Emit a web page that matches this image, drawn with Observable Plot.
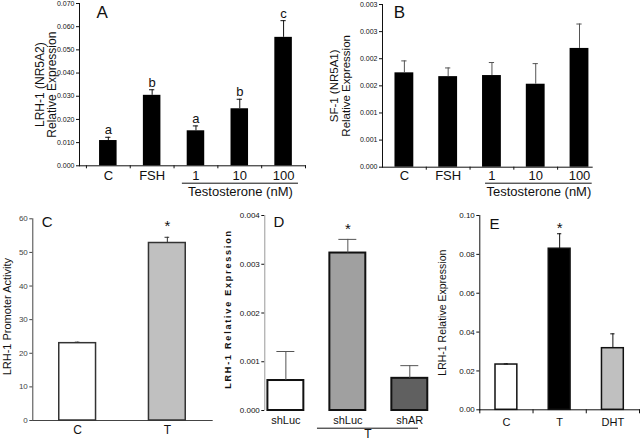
<!DOCTYPE html>
<html>
<head>
<meta charset="utf-8">
<script src="https://cdn.jsdelivr.net/npm/d3@7"></script>
<script src="https://cdn.jsdelivr.net/npm/@observablehq/plot@0.6"></script>
<style>
  body { margin: 0; background: #fff; }
  #fig { position: relative; width: 640px; height: 440px; overflow: hidden; background: #fff; }
  #fig svg { position: absolute; }
</style>
</head>
<body>
<div id="fig"></div>
<script>
// ---------- Panel A: LRH-1 (NR5A2) ----------
const aCats = ["C", "FSH", "1", "10", "100"];
const aMeans = [0.0109, 0.0304, 0.0151, 0.0246, 0.0554];
const aErrs = [0.0014, 0.0024, 0.0021, 0.0041, 0.0072];
const aNotes = ["a", "b", "a", "b", "c"];
const aTicks = [0, 0.01, 0.02, 0.03, 0.04, 0.05, 0.06, 0.07];
const aTickLabels = ["0.000", "0.010", "0.020", "0.030", "0.040", "0.050", "0.060", "0.070"];
const aYLabel = ["LRH-1 (NR5A2)", "Relative Expression"];
const aGroup = {label: "Testosterone (nM)", from: 2, to: 4};

// ---------- Panel B: SF-1 (NR5A1) ----------
const bCats = ["C", "FSH", "1", "10", "100"];
const bMeans = [0.00174, 0.00167, 0.00169, 0.00153, 0.00219];
const bErrs = [0.00022, 0.00016, 0.00024, 0.00038, 0.00045];
const bTicks = [0, 0.0005, 0.001, 0.0015, 0.002, 0.0025, 0.003];
const bTickLabels = ["0.000", "0.001", "0.001", "0.002", "0.002", "0.003", "0.003"];
const bYLabel = ["SF-1 (NR5A1)", "Relative Expression"];
const bGroup = {label: "Testosterone (nM)", from: 2, to: 4};

// ---------- Panel C: promoter activity ----------
const cCats = ["C", "T"];
const cMeans = [23.0, 52.8];
const cErrs = [0.3, 1.7];
const cNotes = ["", "*"];
const cTicks = [0, 10, 20, 30, 40, 50, 60];
const cTickLabels = ["0", "10", "20", "30", "40", "50", "60"];
const cYLabel = ["LRH-1 Promoter Activity"];

// ---------- Panel D: shRNA ----------
const dCats = ["shLuc", "shLuc", "shAR"];
const dMeans = [0.000615, 0.00323, 0.00066];
const dErrs = [0.000595, 0.00028, 0.00026];
const dNotes = ["", "*", ""];
const dTicks = [0, 0.001, 0.002, 0.003, 0.004];
const dTickLabels = ["0.000", "0.001", "0.002", "0.003", "0.004"];
const dYLabel = ["LRH-1 Relative Expression"];
const dGroup = {label: "T", from: 1, to: 2};

// ---------- Panel E: DHT ----------
const eCats = ["C", "T", "DHT"];
const eMeans = [0.0233, 0.0829, 0.0317];
const eErrs = [0.0003, 0.0077, 0.0074];
const eNotes = ["", "*", ""];
const eTicks = [0, 0.02, 0.04, 0.06, 0.08, 0.10];
const eTickLabels = ["0.00", "0.02", "0.04", "0.06", "0.08", "0.10"];
const eYLabel = ["LRH-1 Relative Expression"];

const FONT = "'Liberation Sans', Arial, Helvetica, sans-serif";

function panel(o) {
  const data = o.cats.map((c, i) => ({
    i, c, v: o.means[i], e: o.means[i] + o.errs[i],
    f: o.fills[i], note: o.notes ? o.notes[i] : ""
  }));
  const marks = [];
  if (o.yRuleColor) marks.push(Plot.ruleX([o.xDomain[0]], {stroke: o.yRuleColor, strokeWidth: 1}));
  marks.push(
    Plot.rectY(data, {
      x1: d => d.i - o.bw / 2, x2: d => d.i + o.bw / 2, y: "v",
      fill: "f", stroke: o.stroke || "none", strokeWidth: o.sw || 0
    }),
    Plot.ruleX(data, {x: "i", y1: "v", y2: "e", stroke: o.errColor, strokeWidth: 1}),
    Plot.ruleY(data, {y: "e", x1: d => d.i - o.cap, x2: d => d.i + o.cap, stroke: o.errColor, strokeWidth: 1}),
    Plot.text(data, {x: "i", y: d => 0, text: "c", dy: o.catDy, dx: o.catDx || 0, fontSize: o.catSize, lineAnchor: "middle", fill: "#111"}),
    Plot.text(data.filter(d => d.note), {x: "i", y: "e", text: "note", dy: o.noteDy, fontSize: o.noteSize, lineAnchor: "middle", fill: "#111"}),
    Plot.text([o.letter], {text: d => d, frameAnchor: "top-left", dx: o.letterDx, dy: o.letterDy, fontSize: o.letterSize, lineAnchor: "middle", textAnchor: "middle", fill: "#111"}),
    Plot.text([o.yLabel.join("\n")], {text: d => d, frameAnchor: "left", rotate: -90, dx: o.yLabelDx, dy: o.yLabelDy || 0, fontSize: o.yLabelSize, fontWeight: o.yLabelWeight || "normal", lineAnchor: "middle", textAnchor: "middle", lineHeight: o.yLabelLH || 1.05, fill: "#111"})
  );
  if (o.group) {
    const x1 = o.group.from + o.group.off[0];
    const x2 = o.group.to + o.group.off[1];
    marks.push(
      Plot.ruleY([0], {x1: () => x1, x2: () => x2, dy: o.group.lineDy, stroke: "#111", strokeWidth: 1}),
      Plot.text([{x: (x1 + x2) / 2, t: o.group.label}], {x: "x", y: d => 0, text: "t", dy: o.group.textDy, fontSize: o.group.size, lineAnchor: "middle", fill: "#111"})
    );
  }
  const svg = Plot.plot({
    width: o.width, height: o.height,
    marginLeft: o.ml, marginRight: o.mr, marginTop: o.mt, marginBottom: o.mb,
    style: {fontFamily: FONT, fontSize: o.tickSize + "px", background: "transparent", color: o.axisColor || "#111", overflow: "visible"},
    x: o.xAxis
      ? {domain: o.xDomain, ticks: o.xTicks, tickSize: o.xTickLen, tickFormat: () => "", line: true, label: null}
      : {domain: o.xDomain, axis: null},
    y: {domain: o.yDomain, ticks: o.yTicks, tickFormat: d => o.yTickLabels[o.yTicks.indexOf(d)], tickSize: 3, tickPadding: 2, line: !o.yRuleColor, label: null},
    color: {type: "identity"},
    marks
  });
  svg.style.left = o.left + "px";
  svg.style.top = o.top + "px";
  if (o.yLabelSpacing) {
    d3.select(svg).selectAll("text").filter(function () { return this.textContent === o.yLabel[0]; })
      .attr("letter-spacing", o.yLabelSpacing);
  }
  document.getElementById("fig").appendChild(svg);
}

panel({
  left: 0, top: 0, width: 320, height: 200, ml: 79, mr: 15, mt: 3, mb: 34.7,
  cats: aCats, means: aMeans, errs: aErrs, notes: aNotes, fills: aCats.map(() => "#000"),
  xDomain: [-0.658, 4.5], xAxis: true, xTicks: [-0.5, 0.5, 1.5, 2.5, 3.5, 4.5], xTickLen: 3,
  yDomain: [0, 0.07], yTicks: aTicks, yTickLabels: aTickLabels, tickSize: 7,
  bw: 0.40, cap: 0.06, errColor: "#111",
  catDy: 10, catSize: 13, noteDy: -7, noteSize: 13,
  letter: "A", letterDx: 22.7, letterDy: 8.7, letterSize: 17,
  yLabel: aYLabel, yLabelDx: -33.5, yLabelSize: 12,
  group: {label: aGroup.label, from: aGroup.from, to: aGroup.to, off: [-0.31, 0.34], lineDy: 17.4, textDy: 26.5, size: 13}
});

panel({
  left: 320, top: 0, width: 320, height: 200, ml: 62, mr: 48.3, mt: 4, mb: 33.3,
  cats: bCats, means: bMeans, errs: bErrs, fills: bCats.map(() => "#000"),
  xDomain: [-0.5, 4.29], xAxis: true, xTicks: [0.5, 1.5, 2.5, 3.5], xTickLen: 3,
  yDomain: [0, 0.003], yTicks: bTicks, yTickLabels: bTickLabels, tickSize: 7,
  bw: 0.43, cap: 0.06, errColor: "#555",
  catDy: 8.5, catSize: 13,
  letter: "B", letterDx: 17, letterDy: 7.7, letterSize: 17,
  yLabel: bYLabel, yLabelDx: -42.5, yLabelSize: 11.5,
  group: {label: bGroup.label, from: bGroup.from, to: bGroup.to, off: [-0.146, 0.29], lineDy: 16, textDy: 25, size: 13}
});

panel({
  left: 0, top: 200, width: 215, height: 240, ml: 32.3, mr: 3.3, mt: 18.3, mb: 20,
  cats: cCats, means: cMeans, errs: cErrs, notes: cNotes, fills: ["#ffffff", "#c0c0c0"],
  stroke: "#333", sw: 1.5, axisColor: "#444",
  xDomain: [-0.5, 1.5], xAxis: true, xTicks: [], xTickLen: 0,
  yDomain: [0, 60], yTicks: cTicks, yTickLabels: cTickLabels, tickSize: 8,
  bw: 0.41, cap: 0.026, errColor: "#333",
  catDy: 10, catSize: 12, noteDy: -11, noteSize: 15,
  letter: "C", letterDx: 14.4, letterDy: 3.4, letterSize: 15,
  yLabel: cYLabel, yLabelDx: -26, yLabelDy: -3, yLabelSize: 11
});

panel({
  left: 215, top: 200, width: 217, height: 240, ml: 49.3, mr: 1, mt: 15, mb: 30,
  cats: dCats, means: dMeans, errs: dErrs, notes: dNotes, fills: ["#ffffff", "#a0a0a0", "#606060"],
  stroke: "#111", sw: 2, yRuleColor: "#999",
  xDomain: [-0.34, 2.35], xAxis: false,
  yDomain: [0, 0.004], yTicks: dTicks, yTickLabels: dTickLabels, tickSize: 8,
  bw: 0.58, cap: 0.145, errColor: "#555",
  catDy: 10, catSize: 11, noteDy: -10, noteSize: 15,
  letter: "D", letterDx: 14, letterDy: 6.7, letterSize: 15,
  yLabel: dYLabel, yLabelDx: -36.6, yLabelDy: -4, yLabelSize: 9, yLabelWeight: "bold", yLabelSpacing: 1.8,
  group: {label: dGroup.label, from: dGroup.from, to: dGroup.to, off: [-0.49, 0.14], lineDy: 17.7, textDy: 23.5, size: 12}
});

panel({
  left: 425, top: 200, width: 215, height: 240, ml: 54.3, mr: 1, mt: 15, mb: 30.7,
  cats: eCats, means: eMeans, errs: eErrs, notes: eNotes, fills: ["#ffffff", "#000000", "#c0c0c0"],
  stroke: "#111", sw: 1.5,
  xDomain: [-0.5, 2.5], xAxis: true, xTicks: [-0.5, 0.5, 1.5, 2.5], xTickLen: 4,
  yDomain: [0, 0.10], yTicks: eTicks, yTickLabels: eTickLabels, tickSize: 8,
  bw: 0.41, cap: 0.04, errColor: "#111",
  catDy: 12.4, catSize: 11, noteDy: -6, noteSize: 15,
  letter: "E", letterDx: 14.7, letterDy: 8.3, letterSize: 15,
  yLabel: eYLabel, yLabelDx: -37.6, yLabelSize: 10.5
});
</script>
</body>
</html>
